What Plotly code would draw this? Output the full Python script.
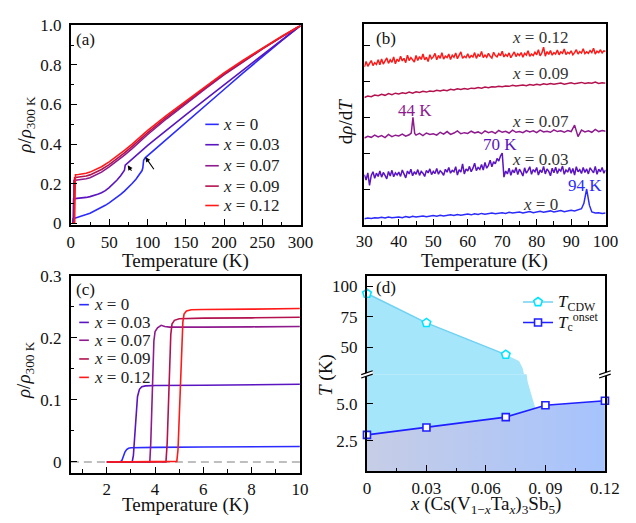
import plotly.graph_objects as go

# ======================= DATA =======================
series_labels = ["0", "0.03", "0.07", "0.09", "0.12"]
series_colors = ["#2b2bff", "#5a14c0", "#8e1a8e", "#b3124f", "#ff1a1a"]

# ---- (a) rho/rho300K vs T (2-300 K) ----
T_a_x0 = [2, 2.6, 2.7, 2.9, 3.0, 5, 10, 15, 20, 25, 30, 35, 40, 45, 50, 55, 60, 65, 70, 75, 80, 85, 90,
          93, 94, 95, 97, 100, 110, 120, 130, 140, 150, 175, 200, 225, 250, 275, 300]
rho_a_x0 = [0, 0, 0.008, 0.021, 0.023, 0.025, 0.03, 0.036, 0.043, 0.05, 0.059, 0.068, 0.079, 0.09, 0.102,
            0.115, 0.13, 0.145, 0.162, 0.18, 0.2, 0.222, 0.248, 0.266, 0.28, 0.318, 0.33, 0.34, 0.372,
            0.405, 0.44, 0.474, 0.508, 0.592, 0.676, 0.76, 0.842, 0.922, 1.0]
T_a_x03 = [2, 3.05, 3.15, 3.3, 3.5, 5, 10, 15, 20, 25, 30, 35, 40, 45, 50, 55, 60, 65, 68, 70, 71, 73, 75,
           80, 90, 100, 110, 120, 130, 140, 150, 175, 200, 225, 250, 275, 300]
rho_a_x03 = [0, 0, 0.04, 0.115, 0.123, 0.124, 0.125, 0.127, 0.13, 0.134, 0.139, 0.146, 0.154, 0.164, 0.18,
             0.197, 0.217, 0.24, 0.256, 0.268, 0.293, 0.3, 0.306, 0.322, 0.357, 0.392, 0.424, 0.456,
             0.487, 0.518, 0.548, 0.624, 0.7, 0.776, 0.851, 0.926, 1.0]
T_a_x07 = [2, 3.8, 3.85, 3.9, 4.0, 6, 10, 15, 20, 25, 30, 40, 50, 60, 70, 80, 90, 100, 125, 150, 175, 200,
           225, 250, 275, 300]
rho_a_x07 = [0, 0, 0.06, 0.18, 0.216, 0.217, 0.218, 0.22, 0.224, 0.23, 0.238, 0.258, 0.284, 0.313, 0.344,
             0.377, 0.412, 0.447, 0.528, 0.604, 0.678, 0.75, 0.816, 0.88, 0.941, 1.0]
T_a_x09 = [2, 4.45, 4.55, 4.65, 4.8, 6, 10, 15, 20, 25, 30, 40, 50, 60, 70, 80, 90, 100, 125, 150, 175, 200,
           225, 250, 275, 300]
rho_a_x09 = [0, 0, 0.06, 0.2, 0.229, 0.231, 0.232, 0.234, 0.238, 0.244, 0.252, 0.271, 0.296, 0.324, 0.355,
             0.388, 0.422, 0.457, 0.536, 0.611, 0.684, 0.755, 0.82, 0.883, 0.942, 1.0]
T_a_x12 = [2, 4.9, 5.0, 5.1, 5.25, 6, 10, 15, 20, 25, 30, 40, 50, 60, 70, 80, 90, 100, 125, 150, 175, 200,
           225, 250, 275, 300]
rho_a_x12 = [0, 0, 0.06, 0.2, 0.243, 0.245, 0.246, 0.248, 0.252, 0.258, 0.266, 0.285, 0.31, 0.338, 0.368,
             0.4, 0.434, 0.468, 0.545, 0.618, 0.69, 0.76, 0.824, 0.886, 0.944, 1.0]
T_a = [T_a_x0, T_a_x03, T_a_x07, T_a_x09, T_a_x12]
rho_a = [rho_a_x0, rho_a_x03, rho_a_x07, rho_a_x09, rho_a_x12]
arrow_heads_a = [(74.2, 0.293), (97.3, 0.334)]
arrow_tails_a = [(80.5, 0.257), (109.8, 0.265)]

# ---- (b) d rho / dT (offset curves, arb. units) ----
T_b_half = [30 + 0.5 * i for i in range(141)]
T_b_x0 = list(range(30, 94)) + [93.7, 94.5, 95.3] + list(range(96, 101))
d_b_x0 = [0.17, 0.19, 0.18, 0.20, 0.19, 0.21, 0.19, 0.22, 0.20, 0.21,
          0.22, 0.20, 0.23, 0.21, 0.24, 0.22, 0.23, 0.25, 0.23, 0.24,
          0.26, 0.24, 0.27, 0.25, 0.26, 0.28, 0.26, 0.29, 0.27, 0.28,
          0.30, 0.28, 0.31, 0.29, 0.32, 0.30, 0.31, 0.33, 0.31, 0.32,
          0.34, 0.32, 0.35, 0.33, 0.34, 0.36, 0.33, 0.35, 0.37, 0.34,
          0.36, 0.38, 0.35, 0.37, 0.39, 0.36, 0.38, 0.40, 0.37, 0.39,
          0.41, 0.39, 0.42, 0.45,
          0.60, 1.00, 0.55,
          0.36, 0.33, 0.34, 0.32, 0.33]
T_b_x03 = T_b_half
d_b_x03 = [1.40, 1.25, 1.45, 1.10, 1.38, 1.48, 1.30, 1.44, 1.35, 1.50,
           1.33, 1.46, 1.38, 1.28, 1.49, 1.36, 1.52, 1.34, 1.45, 1.39,
           1.47, 1.35, 1.53, 1.40, 1.31, 1.50, 1.42, 1.55, 1.37, 1.48,
           1.41, 1.54, 1.38, 1.49, 1.44, 1.35, 1.52, 1.45, 1.56, 1.40,
           1.49, 1.43, 1.57, 1.41, 1.51, 1.46, 1.38, 1.55, 1.47, 1.60,
           1.44, 1.52, 1.48, 1.62, 1.39, 1.54, 1.47, 1.70, 1.42, 1.56,
           1.50, 1.63, 1.48, 1.58, 1.72, 1.51, 1.60, 1.55, 1.68, 1.53,
           1.74, 1.58, 1.66, 1.80, 1.62, 1.76, 1.70, 1.85, 1.78, 1.92,
           2.00, 1.33, 1.50, 1.42, 1.58, 1.38, 1.53, 1.45, 1.60, 1.40,
           1.55, 1.47, 1.36, 1.59, 1.44, 1.52, 1.62, 1.41, 1.54, 1.48,
           1.60, 1.39, 1.53, 1.46, 1.63, 1.42, 1.56, 1.49, 1.37, 1.58,
           1.45, 1.61, 1.43, 1.55, 1.50, 1.64, 1.41, 1.53, 1.47, 1.60,
           1.44, 1.57, 1.39, 1.62, 1.48, 1.54, 1.43, 1.60, 1.46, 1.56,
           1.42, 1.59, 1.50, 1.45, 1.63, 1.41, 1.55, 1.48, 1.60, 1.44,
           1.53]
T_b_x07 = list(range(30, 44)) + [43.6, 44.1, 44.6] + list(range(45, 101))
d_b_x07 = [2.42, 2.47, 2.44, 2.50, 2.45, 2.49, 2.43, 2.52, 2.46, 2.50,
           2.48, 2.53, 2.47, 2.51,
           2.56, 3.00, 2.55,
           2.50, 2.55, 2.49, 2.56, 2.52,
           2.54, 2.50, 2.58, 2.53, 2.60, 2.52, 2.56, 2.62, 2.54, 2.57,
           2.55, 2.61, 2.56, 2.59, 2.54, 2.62, 2.57, 2.60, 2.55, 2.63,
           2.58, 2.61, 2.56, 2.64, 2.58, 2.60, 2.57, 2.63, 2.59, 2.62,
           2.57, 2.64, 2.59, 2.61, 2.58, 2.65, 2.60, 2.62, 2.58, 2.63,
           2.60, 2.78, 2.46, 2.64, 2.59, 2.62, 2.58, 2.66, 2.60, 2.63,
           2.61]
T_b_x09 = list(range(30, 101))
d_b_x09 = [3.55, 3.59, 3.57, 3.62, 3.60, 3.64, 3.61, 3.66, 3.63, 3.67,
           3.65, 3.68, 3.66, 3.70, 3.67, 3.71, 3.69, 3.72, 3.70, 3.73,
           3.72, 3.75, 3.73, 3.76, 3.74, 3.78, 3.76, 3.79, 3.77, 3.80,
           3.78, 3.81, 3.80, 3.83, 3.81, 3.84, 3.82, 3.85, 3.84, 3.86,
           3.85, 3.87, 3.86, 3.89, 3.87, 3.88, 3.90, 3.88, 3.91, 3.89,
           3.92, 3.90, 3.93, 3.91, 3.94, 3.92, 3.93, 3.95, 3.92, 3.94,
           3.96, 3.93, 3.95, 3.97, 3.94, 3.96, 3.95, 3.98, 3.94, 3.96,
           3.95]
T_b_x12 = T_b_half
d_b_x12 = [4.40, 4.55, 4.42, 4.50, 4.58, 4.44, 4.52, 4.47, 4.60, 4.46,
           4.62, 4.48, 4.56, 4.65, 4.50, 4.60, 4.53, 4.68, 4.49, 4.62,
           4.55, 4.70, 4.57, 4.64, 4.52, 4.73, 4.58, 4.66, 4.60, 4.54,
           4.72, 4.58, 4.69, 4.61, 4.76, 4.60, 4.67, 4.55, 4.74, 4.63,
           4.68, 4.78, 4.60, 4.72, 4.64, 4.80, 4.62, 4.70, 4.66, 4.76,
           4.61, 4.73, 4.67, 4.79, 4.63, 4.71, 4.82, 4.64, 4.70, 4.66,
           4.77, 4.65, 4.72, 4.68, 4.80, 4.64, 4.75, 4.69, 4.83, 4.66,
           4.73, 4.67, 4.78, 4.70, 4.65, 4.81, 4.72, 4.68, 4.77, 4.71,
           4.84, 4.68, 4.75, 4.70, 4.79, 4.66, 4.74, 4.82, 4.69, 4.77,
           4.72, 4.80, 4.67, 4.78, 4.73, 4.85, 4.70, 4.76, 4.72, 4.81,
           4.74, 4.88, 4.71, 4.79, 4.95, 4.70, 4.83, 4.75, 4.86, 4.73,
           4.80, 4.76, 4.87, 4.74, 4.82, 4.78, 4.90, 4.75, 4.81, 4.77,
           4.85, 4.74, 4.80, 4.88, 4.76, 4.83, 4.79, 4.91, 4.77, 4.82,
           4.78, 4.86, 4.80, 4.92, 4.76, 4.84, 4.80, 4.88, 4.79, 4.85,
           4.83]
T_b = [T_b_x0, T_b_x03, T_b_x07, T_b_x09, T_b_x12]
d_b = [d_b_x0, d_b_x03, d_b_x07, d_b_x09, d_b_x12]
label_pos_b = [(81, 0.57), (81, 1.81), (81, 2.89), (81, 4.22), (81, 5.21)]
peak_labels_b = ["94 K", "70 K", "44 K"]
peak_pos_b = [(93.9, 1.11), (69.3, 2.24), (44.7, 3.18)]
peak_series_b = [0, 1, 2]

# ---- (c) low-T rho/rho300K ----
T_c_x0 = [2, 2.55, 2.62, 2.68, 2.75, 2.82, 2.9, 3.0, 3.3, 4, 6, 8, 10]
rho_c_x0 = [0, 0, 0.002, 0.009, 0.016, 0.020, 0.022, 0.0228, 0.0232, 0.0235, 0.024, 0.0245, 0.025]
T_c_x03 = [2, 3.05, 3.1, 3.15, 3.2, 3.27, 3.35, 3.45, 3.6, 4, 6, 8, 10]
rho_c_x03 = [0, 0, 0.01, 0.04, 0.075, 0.105, 0.117, 0.121, 0.1225, 0.123, 0.1235, 0.124, 0.125]
T_c_x07 = [2, 3.78, 3.82, 3.86, 3.9, 3.95, 4.0, 4.1, 4.25, 4.4, 4.6, 5, 6, 8, 10]
rho_c_x07 = [0, 0, 0.03, 0.09, 0.15, 0.195, 0.21, 0.216, 0.22, 0.218, 0.217, 0.2168, 0.217, 0.2175, 0.218]
T_c_x09 = [2, 4.45, 4.5, 4.55, 4.6, 4.65, 4.7, 4.8, 5.0, 5.3, 6, 8, 10]
rho_c_x09 = [0, 0, 0.03, 0.09, 0.16, 0.205, 0.222, 0.228, 0.2305, 0.231, 0.2315, 0.232, 0.233]
T_c_x12 = [2, 4.9, 4.95, 5.0, 5.05, 5.1, 5.15, 5.2, 5.3, 5.5, 6, 8, 10]
rho_c_x12 = [0, 0.001, 0.02, 0.07, 0.13, 0.185, 0.225, 0.238, 0.243, 0.245, 0.2455, 0.246, 0.247]
T_c = [T_c_x0, T_c_x03, T_c_x07, T_c_x09, T_c_x12]
rho_c = [rho_c_x0, rho_c_x03, rho_c_x07, rho_c_x09, rho_c_x12]

# ---- (d) phase diagram ----
x_cdw = [0, 0.03, 0.07]
T_cdw = [94, 70, 44]
x_tc = [0, 0.03, 0.07, 0.09, 0.12]
T_tc = [2.9, 3.4, 4.1, 4.9, 5.2]
# CDW phase-region boundary (upper part and continuation below the axis break)
x_cdw_edge_hi = [0, 0.03, 0.07, 0.0735, 0.0767, 0.0785, 0.0795]
T_cdw_edge_hi = [94, 70, 44, 41.5, 38.7, 33, 26]
x_cdw_edge_lo = [0, 0.0795, 0.081, 0.0823, 0.0837, 0.0848]
T_cdw_edge_lo = [8, 8, 6.5, 5.9, 5.3, 4.75]

# ======================= FIGURE =======================
W, H = 636, 523
FONT = "Liberation Serif"
TXT = "#111111"
TICKFONT = dict(family=FONT, size=17, color=TXT)
TITLEFONT = dict(family=FONT, size=19, color=TXT)


def px(x):
    return x / W


def py(y):
    return 1 - y / H


def axis(standoff=0, **kw):
    base = dict(showline=True, linewidth=2, linecolor="black", mirror=True, ticks="inside",
                ticklen=6, tickwidth=1.2, tickcolor="black", showgrid=False, zeroline=False,
                tickfont=TICKFONT, ticklabelstandoff=standoff)
    base.update(kw)
    return base


def minor(vals, length=3.5):
    return dict(ticks="inside", ticklen=length, tickwidth=1, tickcolor="black",
                tickmode="array", tickvals=vals, showgrid=False)


fig = go.Figure()

# (a)
for i in range(5):
    fig.add_trace(go.Scatter(x=T_a[i], y=rho_a[i], mode="lines", xaxis="x", yaxis="y",
                             line=dict(color=series_colors[i], width=1.6), showlegend=False))
# (b)
for i in range(5):
    fig.add_trace(go.Scatter(x=T_b[i], y=d_b[i], mode="lines", xaxis="x2", yaxis="y2",
                             line=dict(color=series_colors[i], width=1.5), showlegend=False))
# (c)
for i in range(5):
    fig.add_trace(go.Scatter(x=T_c[i], y=rho_c[i], mode="lines", xaxis="x3", yaxis="y3",
                             line=dict(color=series_colors[i], width=1.6), showlegend=False))

# (d) fills
fig.add_trace(go.Scatter(x=x_cdw_edge_hi, y=T_cdw_edge_hi, mode="lines", xaxis="x5", yaxis="y5",
                         fill="tozeroy", fillcolor="#a6e6fa", line=dict(width=0, color="#a6e6fa"),
                         showlegend=False, hoverinfo="skip"))
fig.add_trace(go.Scatter(x=x_cdw_edge_lo, y=T_cdw_edge_lo, mode="lines", xaxis="x4", yaxis="y4",
                         fill="tozeroy", fillcolor="#a6e6fa", line=dict(width=0, color="#a6e6fa"),
                         showlegend=False, hoverinfo="skip"))
fig.add_trace(go.Scatter(x=x_tc, y=T_tc, mode="lines", xaxis="x4", yaxis="y4", fill="tozeroy",
                         fillgradient=dict(type="horizontal",
                                           colorscale=[[0, "#c6cde6"], [1, "#a6c3fd"]]),
                         line=dict(width=0, color="#a6c3fd"), showlegend=False, hoverinfo="skip"))
fig.add_trace(go.Scatter(x=x_cdw, y=T_cdw, mode="lines+markers", xaxis="x5", yaxis="y5",
                         name="<span style='font-size:17px'><i>T</i><sub>CDW</sub></span>",
                         line=dict(color="#6fd2f2", width=1.5), cliponaxis=False,
                         marker=dict(symbol="pentagon", size=9, color="white",
                                     line=dict(color="#00e5ff", width=1.6)),
                         legend="legend"))
fig.add_trace(go.Scatter(x=x_tc, y=T_tc, mode="lines+markers", xaxis="x4", yaxis="y4",
                         name="<span style='font-size:17px'><i>T</i><sub>c</sub><sup>onset</sup></span>",
                         line=dict(color="#1f1fff", width=1.6), cliponaxis=False,
                         marker=dict(symbol="square", size=7, color="white",
                                     line=dict(color="#1f1fff", width=1.6)),
                         legend="legend"))

annotations = []
shapes = []

# panel labels
for lab, (x0, y0) in zip(["(a)", "(b)", "(c)", "(d)"], [(68, 31), (379, 30), (68, 289), (379, 287)]):
    annotations.append(dict(text=lab, x=px(x0), y=py(y0), xref="paper", yref="paper",
                            xanchor="left", yanchor="middle", showarrow=False,
                            font=dict(family=FONT, size=17, color=TXT)))

# axis titles (placed explicitly so they sit where the reference has them)
axis_titles = [
    ("Temperature (K)", 183.6, 260, 0),
    ("Temperature (K)", 494.6, 260, 0),
    ("Temperature (K)", 183.3, 512, 0),
    ("<i>x</i> (Cs(V<sub>1−<i>x</i></sub>Ta<sub><i>x</i></sub>)<sub>3</sub>Sb<sub>5</sub>)", 495.6, 511.5, 0),
    ("<i>ρ</i>/<i>ρ</i><sub>300 K</sub>", 18, 119, -90),
    ("d<i>ρ</i>/d<i>T</i>", 350, 116, -90),
    ("<i>ρ</i>/<i>ρ</i><sub>300 K</sub>", 16, 372, -90),
    ("<i>T</i> (K)", 330, 378, -90),
]
for txt, xx, yy, ang in axis_titles:
    annotations.append(dict(text=txt, x=px(xx), y=py(yy), xref="paper", yref="paper",
                            xanchor="center", yanchor="middle", textangle=ang, showarrow=False,
                            font=TITLEFONT))

# manual legends for (a) and (c)
leg_a_rows = [119, 140, 161.7, 182.7, 202.7]
leg_c_rows = [305, 323.3, 341.7, 361, 380]
for rows, xl0, xl1, xt in [(leg_a_rows, 204, 218, 220), (leg_c_rows, 73, 83, 86)]:
    for i, yr in enumerate(rows):
        shapes.append(dict(type="line", xref="paper", yref="paper", x0=px(xl0), x1=px(xl1),
                           y0=py(yr), y1=py(yr), line=dict(color=series_colors[i], width=1.6)))
        annotations.append(dict(text="<i>x</i> = " + series_labels[i], x=px(xt), y=py(yr),
                                xref="paper", yref="paper", xanchor="left", yanchor="middle",
                                showarrow=False, font=dict(family=FONT, size=17, color="#222222")))

# arrows in (a)
for (hx, hy), (tx, ty) in zip(arrow_heads_a, arrow_tails_a):
    annotations.append(dict(x=hx, y=hy, ax=tx, ay=ty, xref="x", yref="y", axref="x", ayref="y",
                            showarrow=True, arrowhead=2, arrowsize=0.9, arrowwidth=1.1,
                            arrowcolor="black", text=""))

# (b) labels
for i, (lx, ly) in enumerate(label_pos_b):
    annotations.append(dict(text="<i>x</i> = " + series_labels[i], x=lx, y=ly, xref="x2", yref="y2",
                            showarrow=False, font=dict(family=FONT, size=17, color="#333333")))
for lab, (lx, ly), si in zip(peak_labels_b, peak_pos_b, peak_series_b):
    annotations.append(dict(text=lab, x=lx, y=ly, xref="x2", yref="y2", showarrow=False,
                            font=dict(family=FONT, size=17, color=series_colors[si])))

# (c) dashed zero line
shapes.append(dict(type="line", xref="x3 domain", yref="y3", x0=0, x1=1, y0=0, y1=0,
                   layer="below", line=dict(color="#aaaaaa", width=1.4, dash="8px,5px")))

# axis-break marks in (d)
for bx in [372, 619.3]:
    by = 376.7
    shapes.append(dict(type="path", xref="paper", yref="paper",
                       path=(f"M{px(bx-6)},{py(by+0.5)} L{px(bx+6)},{py(by-3.5)} "
                             f"L{px(bx+6)},{py(by)} L{px(bx-6)},{py(by+4)} Z"),
                       fillcolor="white", line=dict(width=0)))
    for off in [0, 3.5]:
        shapes.append(dict(type="line", xref="paper", yref="paper",
                           x0=px(bx - 6), y0=py(by + 0.5 + off), x1=px(bx + 6), y1=py(by - 3.5 + off),
                           line=dict(color="black", width=1.2)))

fig.update_layout(
    width=W, height=H, margin=dict(l=0, r=0, t=0, b=0),
    paper_bgcolor="white", plot_bgcolor="rgba(0,0,0,0)",
    font=dict(family=FONT, size=17, color=TXT),
    xaxis=axis(domain=[px(64.3), px(303)], range=[0, 300], anchor="y",
               tickvals=[0, 50, 100, 150, 200, 250, 300], minor=minor([25, 75, 125, 175, 225, 275])),
    yaxis=axis(4, domain=[py(223.3), py(17)], range=[-0.012, 1.0], anchor="x",
               tickvals=[0, 0.2, 0.4, 0.6, 0.8, 1.0], ticktext=["0", "0.2", "0.4", "0.6", "0.8", "1.0"],
               minor=minor([0.1, 0.3, 0.5, 0.7, 0.9])),
    xaxis2=axis(domain=[px(369.3), px(620)], range=[30, 100], anchor="y2",
                tickvals=[30, 40, 50, 60, 70, 80, 90, 100], minor=minor([35, 45, 55, 65, 75, 85, 95])),
    yaxis2=axis(domain=[py(222.7), py(15)], range=[0, 5.61], anchor="x2",
                tickvals=[1, 2, 3, 4, 5], showticklabels=False),
    xaxis3=axis(domain=[px(64.3), px(302.3)], range=[0.51, 10], anchor="y3",
                tickvals=[2, 4, 6, 8, 10], minor=minor([1, 3, 5, 7, 9])),
    yaxis3=axis(4, domain=[py(478.3), py(275)], range=[-0.0172, 0.3], anchor="x3",
                tickvals=[0, 0.1, 0.2, 0.3], ticktext=["0", "0.1", "0.2", "0.3"],
                minor=minor([0.05, 0.15, 0.25])),
    xaxis4=axis(domain=[px(372), px(619.3)], range=[0, 0.12], anchor="y4", mirror=False,
                tickvals=[0, 0.03, 0.06, 0.09, 0.12], ticktext=["0", "0.03", "0.06", "0. 09", "0.12"],
                minor=minor([0.015, 0.045, 0.075, 0.105])),
    yaxis4=axis(4, domain=[py(476.7), py(376.7)], range=[0.45, 7.0], anchor="x4",
                tickvals=[2.5, 5.0], ticktext=["2.5", "5.0"]),
    xaxis5=axis(domain=[px(372), px(619.3)], range=[0, 0.12], anchor="y5", side="top",
                mirror=False, ticks="", showticklabels=False, matches="x4"),
    yaxis5=axis(4, domain=[py(376.7), py(275)], range=[28, 108.7], anchor="x5",
                tickvals=[50, 75, 100]),
    legend=dict(x=px(529), y=py(286.5), xanchor="left", yanchor="top", bgcolor="rgba(0,0,0,0)",
                font=dict(family=FONT, size=13.5, color=TXT), tracegroupgap=0),
    annotations=annotations, shapes=shapes,
)

# remove the browser's default 8px page margin so the figure fills the window exactly
fig.write_html("out.html", config={"displayModeBar": False},
               post_script="document.body.style.margin='0';")
